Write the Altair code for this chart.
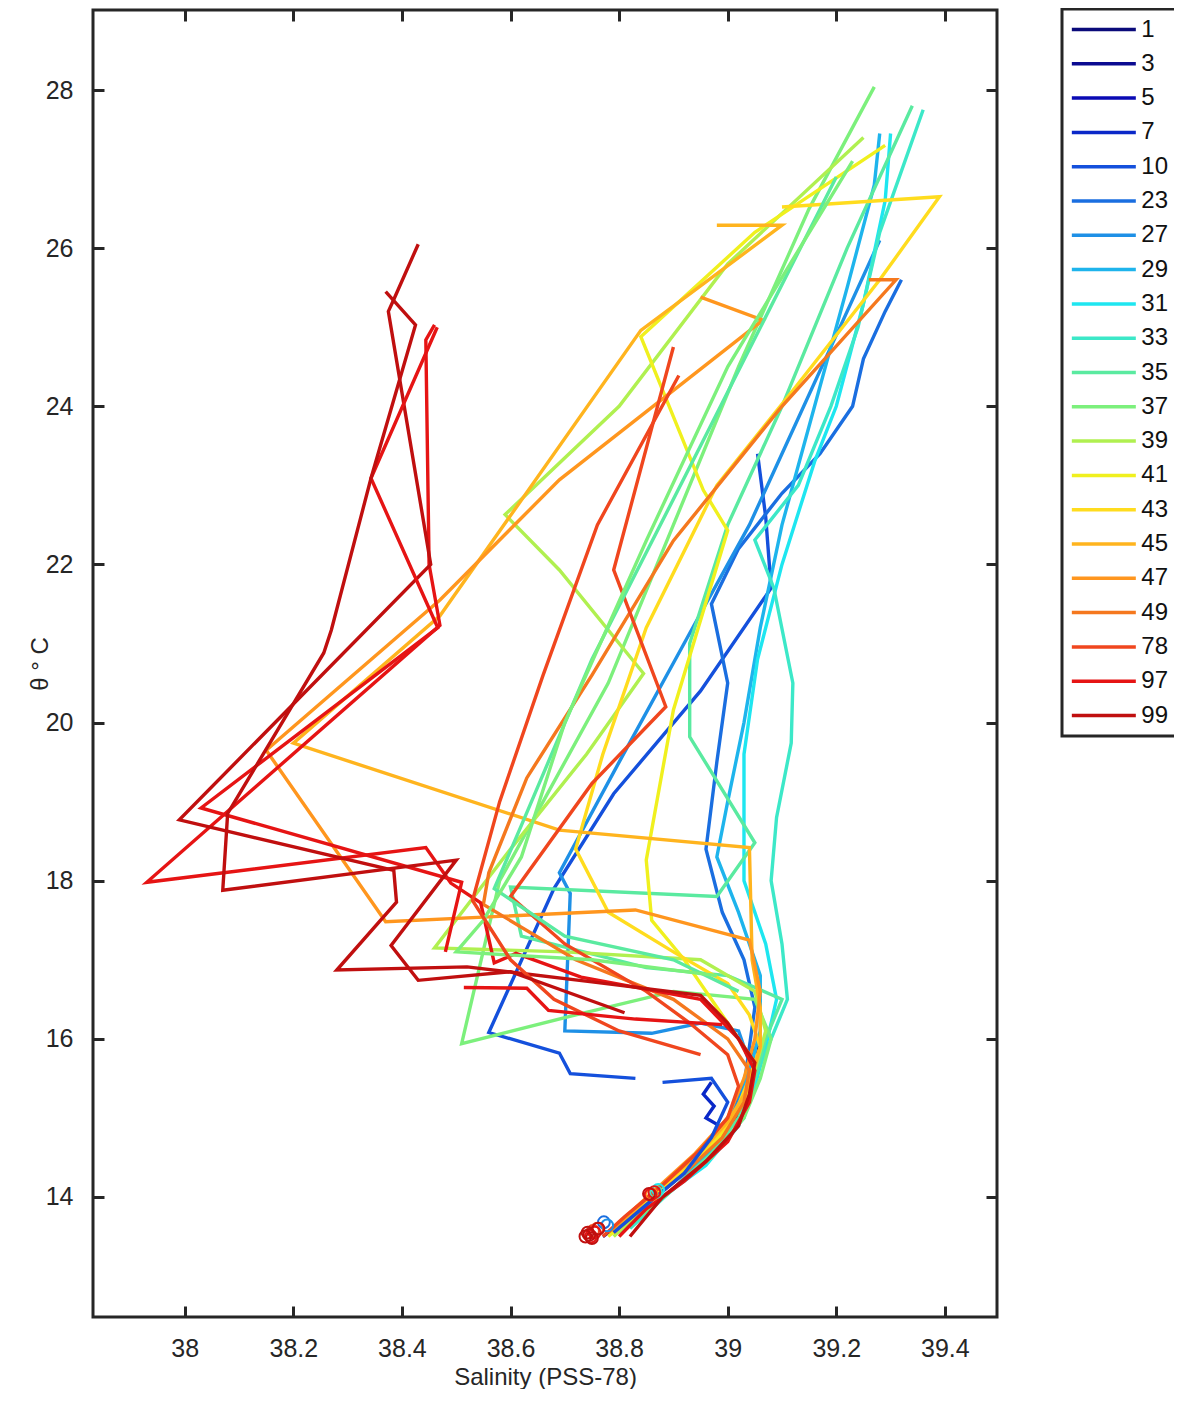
import altair as alt
import pandas as pd

series_labels = ["1", "3", "5", "7", "10", "23", "27", "29", "31", "33", "35",
                 "37", "39", "41", "43", "45", "47", "49", "78", "97", "99"]
series_colors = ["#0a0a7a", "#0b0b91", "#0a0ab4", "#0a28c8", "#1450dc", "#1a6ee0",
                 "#1e90e6", "#1eb4ec", "#1ee6f0", "#3ce8c8", "#5aeaa0", "#7cf07c",
                 "#b0f050", "#f0f01e", "#ffdc1e", "#ffb41e", "#ff961e", "#f5781e",
                 "#f0461e", "#e61414", "#c00f0f"]

x_ticks = [38, 38.2, 38.4, 38.6, 38.8, 39, 39.2, 39.4]
y_ticks = [14, 16, 18, 20, 22, 24, 26, 28]

# ---- profiles: salinity (PSS-78) and potential temperature (deg C) ----
sal_1 = [39.05, 39.04, 39.02, 38.97, 38.90, 38.83, 38.78]
th_1 = [15.9, 15.5, 15.0, 14.6, 14.2, 13.8, 13.55]
sal_3 = [39.06, 39.05, 39.03, 38.98, 38.91, 38.84, 38.79]
th_3 = [16.0, 15.6, 15.1, 14.7, 14.3, 13.9, 13.6]
sal_5 = [39.04, 39.03, 39.00, 38.95, 38.88, 38.81, 38.77]
th_5 = [15.7, 15.3, 14.9, 14.5, 14.1, 13.7, 13.5]
sal_7 = [38.97, 38.955, 38.975, 38.96, 38.985, 39.0, 38.94, 38.87, 38.80]
th_7 = [15.45, 15.3, 15.15, 15.0, 14.9, 14.8, 14.45, 14.05, 13.6]
sal_10 = [39.055, 39.07, 39.08, 38.95, 38.79, 38.68, 38.56, 38.69, 38.71, 38.83]
th_10 = [23.4, 22.6, 21.7, 20.4, 19.1, 17.9, 16.08, 15.82, 15.56, 15.5]
sal_10b = [38.88, 38.97, 39.0, 38.97, 38.92, 38.85, 38.79]
th_10b = [15.45, 15.5, 15.2, 14.75, 14.3, 13.9, 13.55]
sal_23 = [39.32, 39.29, 39.25, 39.23, 39.17, 39.10, 39.02, 38.97, 39.00, 38.98,
          38.96, 38.99, 39.03, 39.05, 39.04, 39.03, 39.00, 38.95, 38.88, 38.80]
th_23 = [25.6, 25.2, 24.6, 24.0, 23.4, 22.9, 22.2, 21.5, 20.5, 19.5,
         18.4, 17.6, 17.0, 16.4, 15.9, 15.4, 15.0, 14.6, 14.1, 13.6]
sal_27 = [39.28, 39.20, 39.12, 39.04, 38.93, 38.80, 38.69, 38.71, 38.70, 38.86,
          38.95, 39.02, 39.04, 39.02, 38.98, 38.92, 38.85, 38.79]
th_27 = [26.1, 24.9, 23.7, 22.5, 21.13, 19.5, 18.1, 17.84, 16.1, 16.07,
         16.2, 16.1, 15.7, 15.2, 14.8, 14.35, 13.95, 13.55]
sal_29 = [39.28, 39.27, 39.22, 39.16, 39.10, 39.06, 39.03, 39.00, 38.98, 39.02,
          39.06, 39.06, 39.04, 39.02, 38.97, 38.90, 38.81]
th_29 = [27.45, 26.8, 25.5, 24.0, 22.5, 21.2, 20.0, 19.0, 18.3, 17.6,
         16.8, 16.1, 15.6, 15.1, 14.6, 14.1, 13.6]
sal_31 = [39.30, 39.29, 39.25, 39.20, 39.16, 39.10, 39.055, 39.03, 39.03, 39.07,
          39.09, 39.07, 39.05, 39.02, 38.96, 38.88, 38.80]
th_31 = [27.45, 26.6, 25.3, 24.0, 23.3, 22.0, 20.8, 19.6, 18.0, 17.2,
         16.5, 15.9, 15.4, 14.9, 14.4, 14.0, 13.55]
sal_33 = [39.36, 39.28, 39.24, 39.19, 39.13, 39.05, 39.085, 39.12, 39.117, 39.09,
          39.08, 39.10, 39.11, 39.08, 39.05, 39.03, 38.98, 38.90, 38.82]
th_33 = [27.75, 26.2, 25.0, 24.0, 23.0, 22.31, 21.7, 20.5, 19.74, 18.8,
         18.0, 17.2, 16.5, 16.0, 15.5, 15.0, 14.6, 14.1, 13.6]
sal_35 = [39.34, 39.22, 39.10, 39.00, 38.93, 38.93, 39.05, 38.98, 38.60, 38.62,
          38.85, 39.00, 39.10, 39.07, 39.05, 39.02, 38.97, 38.90, 38.81]
th_35 = [27.8, 26.0, 24.0, 22.5, 21.0, 19.82, 18.48, 17.8, 17.92, 17.3,
         16.9, 16.8, 16.5, 16.0, 15.5, 15.0, 14.55, 14.1, 13.6]
sal_35b = [39.2, 38.95, 38.75, 38.62, 38.57, 38.7, 38.9, 39.02]
th_35b = [26.9, 23.5, 20.8, 18.7, 17.9, 17.3, 17.0, 16.6]
sal_37 = [39.27, 39.15, 39.02, 38.90, 38.78, 38.66, 38.58, 38.51, 38.73, 38.90,
          39.05, 39.08, 39.06, 39.03, 38.97, 38.89, 38.80]
th_37 = [28.04, 26.5, 24.5, 22.5, 20.5, 19.0, 18.0, 15.94, 16.32, 16.6,
         16.5, 16.0, 15.5, 15.0, 14.5, 14.05, 13.55]
sal_37b = [39.23, 39.0, 38.85, 38.7, 38.62, 38.55, 38.5, 38.75, 38.98]
th_37b = [27.1, 24.5, 22.3, 20.0, 18.3, 17.5, 17.1, 17.0, 16.8]
sal_39 = [39.25, 39.00, 38.80, 38.59, 38.69, 38.845, 38.74, 38.60, 38.46, 38.70,
          38.95, 39.05, 39.07, 39.05, 39.02, 38.96, 38.88, 38.79]
th_39 = [27.4, 25.8, 24.0, 22.63, 21.93, 20.62, 19.6, 18.4, 17.15, 17.1,
         17.0, 16.6, 16.1, 15.6, 15.1, 14.6, 14.1, 13.5]
sal_41 = [39.29, 39.05, 38.84, 38.955, 39.00, 38.90, 38.85, 38.86, 38.92, 39.00,
          39.05, 39.03, 38.99, 38.92, 38.84, 38.78]
th_41 = [27.3, 26.2, 24.88, 22.94, 22.43, 20.16, 18.26, 17.5, 17.0, 16.2,
         15.7, 15.2, 14.8, 14.3, 13.85, 13.5]
sal_43 = [39.10, 39.39, 39.28, 39.12, 38.98, 38.85, 38.77, 38.72, 38.78, 38.90,
          39.00, 39.04, 39.06, 39.04, 39.01, 38.95, 38.87, 38.80]
th_43 = [26.52, 26.65, 25.6, 24.2, 23.0, 21.2, 19.6, 18.4, 17.6, 17.1,
         16.7, 16.3, 15.9, 15.5, 15.0, 14.55, 14.05, 13.6]
sal_45 = [38.98, 39.10, 38.84, 38.47, 38.20, 38.69, 39.04, 39.045, 39.06, 39.06,
          39.04, 39.00, 38.94, 38.86, 38.79]
th_45 = [26.29, 26.29, 24.96, 21.35, 19.74, 18.64, 18.42, 17.0, 16.4, 15.9,
         15.4, 14.95, 14.5, 14.05, 13.55]
sal_47 = [38.95, 39.065, 38.69, 38.47, 38.15, 38.37, 38.83, 39.04, 39.06, 39.05,
          39.03, 39.00, 38.94, 38.86, 38.78]
th_47 = [25.38, 25.09, 23.07, 21.55, 19.65, 17.48, 17.63, 17.25, 16.6, 16.0,
         15.5, 15.0, 14.55, 14.05, 13.55]
sal_49 = [39.26, 39.31, 39.10, 38.90, 38.75, 38.63, 38.56, 38.55, 38.72, 38.90,
          39.00, 39.04, 39.03, 38.99, 38.92, 38.85, 38.79]
th_49 = [25.6, 25.6, 24.0, 22.3, 20.6, 19.3, 18.1, 17.7, 17.0, 16.5,
         16.0, 15.6, 15.2, 14.75, 14.3, 13.9, 13.55]
sal_78 = [38.90, 38.79, 38.886, 38.75, 38.60, 38.70, 38.85, 38.93, 39.00, 39.02,
          39.00, 38.95, 38.88, 38.81, 38.77]
th_78 = [24.75, 21.93, 20.2, 19.23, 17.8, 17.2, 16.6, 16.2, 15.8, 15.4,
         15.0, 14.6, 14.15, 13.75, 13.5]
sal_78b = [38.91, 38.76, 38.66, 38.58, 38.53, 38.60, 38.68, 38.80, 38.95]
th_78b = [24.39, 22.5, 20.6, 19.0, 17.75, 17.0, 16.5, 16.1, 15.8]
sal_97 = [38.46, 38.444, 38.45, 38.47, 37.93, 38.444, 38.49, 38.545, 38.57, 38.61,
          38.73, 38.95, 39.02, 39.05, 39.04, 39.00, 38.92, 38.85, 38.80]
th_97 = [25.03, 24.84, 22.0, 21.23, 17.98, 18.42, 17.97, 17.72, 16.96, 17.08,
         16.78, 16.5, 16.0, 15.6, 15.2, 14.7, 14.2, 13.85, 13.5]
sal_97b = [38.465, 38.343, 38.466, 38.03, 38.51, 38.48]
th_97b = [25.0, 23.09, 21.2, 18.92, 17.98, 17.1]
sal_97c = [38.514, 38.63, 38.67, 38.83, 38.99]
th_97c = [16.65, 16.64, 16.36, 16.25, 16.18]
sal_99 = [38.43, 38.385, 38.375, 38.453, 37.99, 38.385, 38.39, 38.28, 38.52, 38.75,
          38.95, 39.00, 39.05, 39.04, 39.02, 38.96, 38.88, 38.82]
th_99 = [26.05, 25.35, 25.2, 22.0, 18.77, 18.13, 17.73, 16.87, 16.91, 16.72,
         16.55, 16.2, 15.7, 15.3, 14.9, 14.45, 14.0, 13.5]
sal_99b = [38.37, 38.425, 38.343, 38.27, 38.256, 38.079, 38.07, 38.50, 38.38, 38.43,
           38.60, 38.81]
th_99b = [25.45, 25.03, 23.09, 21.17, 20.88, 18.85, 17.88, 18.26, 17.18, 16.74,
          16.85, 16.33]

# circle markers at the deep end of the casts
mk_series = ["23", "27", "31", "33", "47", "78", "78", "97", "97", "97", "97",
             "99", "99", "99", "99", "99", "99"]
mk_sal = [38.772, 38.778, 38.872, 38.868, 38.86, 38.76, 38.752, 38.755, 38.748,
          38.865, 38.858, 38.745, 38.75, 38.742, 38.762, 38.855, 38.738]
mk_th = [13.68, 13.64, 14.09, 14.06, 14.03, 13.6, 13.57, 13.55, 13.5,
         14.06, 14.03, 13.52, 13.48, 13.55, 13.6, 14.04, 13.5]

main_profiles = [
    ("1", sal_1, th_1), ("3", sal_3, th_3), ("5", sal_5, th_5), ("7", sal_7, th_7),
    ("10", sal_10, th_10), ("23", sal_23, th_23), ("27", sal_27, th_27),
    ("29", sal_29, th_29), ("31", sal_31, th_31), ("33", sal_33, th_33),
    ("35", sal_35, th_35), ("37", sal_37, th_37), ("39", sal_39, th_39),
    ("41", sal_41, th_41), ("43", sal_43, th_43), ("45", sal_45, th_45),
    ("47", sal_47, th_47), ("49", sal_49, th_49), ("78", sal_78, th_78),
    ("97", sal_97, th_97), ("99", sal_99, th_99),
]
extra_profiles = [
    ("10", "b", sal_10b, th_10b), ("35", "b", sal_35b, th_35b),
    ("37", "b", sal_37b, th_37b), ("78", "b", sal_78b, th_78b),
    ("97", "b", sal_97b, th_97b), ("97", "c", sal_97c, th_97c),
    ("99", "b", sal_99b, th_99b),
]

rows = []
for lab, ss, tt in main_profiles:
    for i, (s, t) in enumerate(zip(ss, tt)):
        rows.append({"series": lab, "key": lab + "a", "idx": i, "sal": s, "th": t})
df_main = pd.DataFrame(rows)
rows = []
for lab, seg, ss, tt in extra_profiles:
    for i, (s, t) in enumerate(zip(ss, tt)):
        rows.append({"series": lab, "key": lab + seg, "idx": i, "sal": s, "th": t})
df_extra = pd.DataFrame(rows)
df_mk = pd.DataFrame({"series": mk_series, "sal": mk_sal, "th": mk_th})

W, H = 904, 1307
FONT = "Liberation Sans"
INK = "#262626"
LW = 3.4

xscale = alt.Scale(domain=[37.831, 39.496], nice=False, zero=False)
yscale = alt.Scale(domain=[12.482, 29.012], nice=False, zero=False)
cscale = alt.Scale(domain=series_labels, range=series_colors)

# legend line: a custom horizontal path three times the symbol's nominal size
legend = alt.Legend(title=None, orient="none", legendX=969, legendY=-1,
                    symbolType="M-3,0H3", symbolSize=455, symbolStrokeWidth=3.5,
                    symbolOffset=21.33, symbolOpacity=1,
                    labelFontSize=24, labelFont=FONT, labelColor="#111111",
                    labelOffset=25, rowPadding=9.3, padding=8,
                    strokeColor=INK, fillColor="white")


def tick_axis(orient, offset, vals):
    return alt.Axis(orient=orient, offset=offset, values=vals, labels=False,
                    ticks=True, tickSize=11, tickWidth=3, tickColor=INK,
                    domain=False, grid=False, title=None)


lines = alt.Chart(df_main).mark_line(strokeWidth=LW).encode(
    x=alt.X("sal:Q", scale=xscale,
            axis=alt.Axis(orient="bottom", values=x_ticks, format="~g", ticks=False,
                          tickSize=0, domain=False, grid=False, labelPadding=19,
                          title="Salinity (PSS-78)", titlePadding=4)),
    y=alt.Y("th:Q", scale=yscale,
            axis=alt.Axis(orient="left", values=y_ticks, format="d", ticks=False,
                          tickSize=0, domain=False, grid=False, labelPadding=20,
                          title="θ ° C", titlePadding=-7)),
    color=alt.Color("series:N", scale=cscale, sort=series_labels, legend=legend),
    detail="key:N",
    order="idx:Q",
)

extra = alt.Chart(df_extra).mark_line(strokeWidth=LW).encode(
    x=alt.X("sal:Q", scale=xscale, axis=tick_axis("bottom", -H, x_ticks)),
    y=alt.Y("th:Q", scale=yscale, axis=tick_axis("left", -W, y_ticks)),
    color=alt.Color("series:N", scale=cscale, sort=series_labels, legend=legend),
    detail="key:N",
    order="idx:Q",
)

marks = alt.Chart(df_mk).mark_point(shape="circle", filled=False, size=140,
                                    strokeWidth=2, opacity=1).encode(
    x=alt.X("sal:Q", scale=xscale, axis=tick_axis("top", -H, x_ticks)),
    y=alt.Y("th:Q", scale=yscale, axis=tick_axis("right", -W, y_ticks)),
    color=alt.Color("series:N", scale=cscale, sort=series_labels, legend=legend),
)

chart = alt.layer(lines, extra, marks).resolve_axis(
    x="independent", y="independent"
).properties(
    width=W, height=H,
    autosize=alt.AutoSizeParams(type="none"),
    padding={"left": 85, "top": 2, "right": 177, "bottom": 72},
).configure_view(
    stroke=INK, strokeWidth=3
).configure_axis(
    labelFont=FONT, labelFontSize=25, labelColor=INK,
    titleFont=FONT, titleFontSize=24, titleFontWeight="normal", titleColor=INK,
).configure_legend(
    strokeWidth=3
)

chart.save("out.html", embed_options={"renderer": "svg", "actions": False})
